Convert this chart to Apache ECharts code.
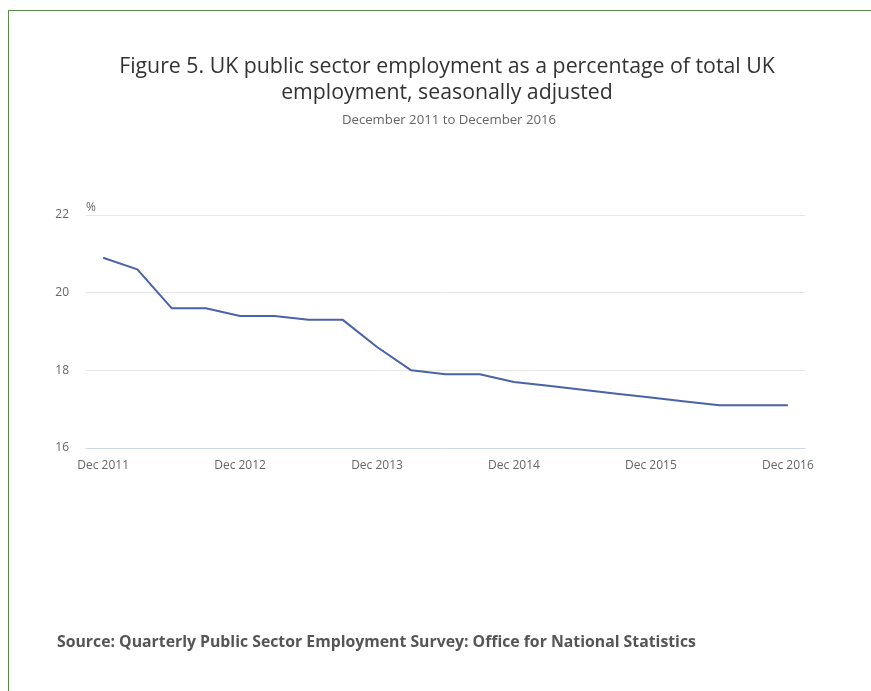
<!DOCTYPE html>
<html><head><meta charset="utf-8">
<script src="https://cdn.jsdelivr.net/npm/echarts@6/dist/echarts.min.js"></script>
<style>
html,body{margin:0;padding:0;background:#fff;}
#frame{position:absolute;left:8px;top:10px;width:900px;height:700px;border-left:1.5px solid #5a8a4a;border-top:1.5px solid #5a8a4a;}
#chart{position:absolute;left:0;top:0;width:871px;height:691px;}
</style></head>
<body>
<div id="frame"></div>
<div id="chart"></div>
<script>
const categories = ['Dec 2011','Mar 2012','Jun 2012','Sep 2012','Dec 2012','Mar 2013','Jun 2013','Sep 2013','Dec 2013','Mar 2014','Jun 2014','Sep 2014','Dec 2014','Mar 2015','Jun 2015','Sep 2015','Dec 2015','Mar 2016','Jun 2016','Sep 2016','Dec 2016'];
const values = [20.9,20.6,19.6,19.6,19.4,19.4,19.3,19.3,18.6,18.0,17.9,17.9,17.7,17.6,17.5,17.4,17.3,17.2,17.1,17.1,17.1];
const yTicks = [16,18,20,22];

const chart = echarts.init(document.getElementById('chart'), null, {renderer:'canvas'});
const font = '"Open Sans", sans-serif';
chart.setOption({
  animation:false,
  backgroundColor:'transparent',
  title:[
    {text:'Figure 5. UK public sector employment as a percentage of total UK\nemployment, seasonally adjusted',
     left:442, top:49, textAlign:'center',
     textStyle:{fontFamily:font,fontSize:21.3,fontWeight:'normal',color:'#333',lineHeight:26}},
    {text:'December 2011 to December 2016', left:444, top:109, textAlign:'center',
     textStyle:{fontFamily:font,fontSize:13.2,fontWeight:'normal',color:'#666'}},
    {text:'Source: Quarterly Public Sector Employment Survey: Office for National Statistics', left:52, top:629,
     textStyle:{fontFamily:font,fontSize:15.8,fontWeight:'bold',color:'#555'}}
  ],
  grid:{left:86,right:66,top:215,bottom:243},
  xAxis:{type:'category',data:categories,boundaryGap:true,
    axisLine:{lineStyle:{color:'#ccd6eb',width:1}},
    axisTick:{alignWithLabel:true,interval:3,length:6,lineStyle:{color:'#ccd6eb'}},
    axisLabel:{interval:3,color:'#666',fontFamily:font,fontSize:12,margin:12}},
  yAxis:{type:'value',min:16,max:22,interval:2,name:'%',nameLocation:'end',nameGap:1,
    nameTextStyle:{color:'#666',fontFamily:font,fontSize:12,align:'left'},
    axisLine:{show:false},axisTick:{show:false},
    axisLabel:{color:'#666',fontFamily:font,fontSize:12,margin:17},
    splitLine:{lineStyle:{color:'#e6e6e6',width:1}}},
  series:[{type:'line',data:values,symbol:'none',lineStyle:{color:'#4a62a8',width:2}}]
});
</script>
</body></html>
